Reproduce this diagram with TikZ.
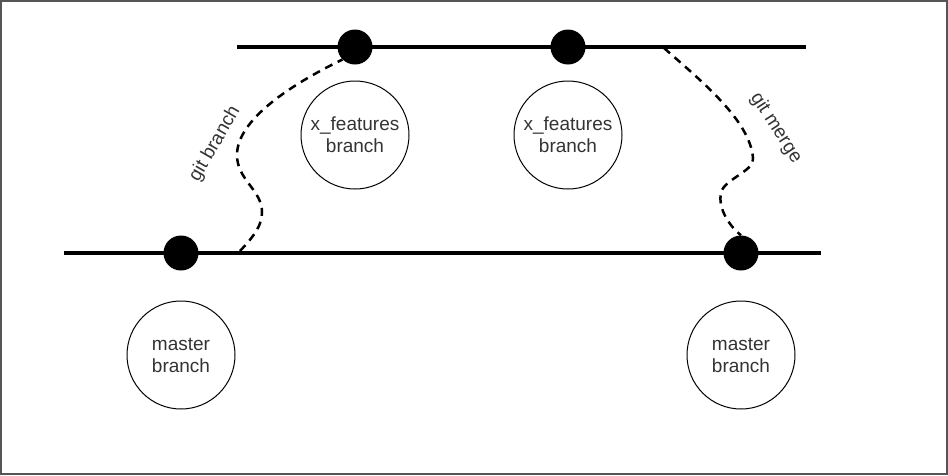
\documentclass[tikz,border=0pt]{standalone}
\usepackage{fontspec}
\setmainfont{Liberation Sans}
\usepackage{xcolor}
\definecolor{textgray}{HTML}{333333}
\definecolor{framegray}{HTML}{555555}

\begin{document}
\begin{tikzpicture}[
  x=1pt, y=-1pt,
  branchline/.style={draw=black, line width=3.2pt},
  commit/.style={circle, fill=black, inner sep=0pt, minimum size=35pt},
  tag/.style={circle, draw=black, line width=1pt, minimum size=108pt, inner sep=0pt, align=center, font=\fontsize{19}{22}\selectfont, text=textgray},
  gitop/.style={line width=2.5pt, dash pattern=on 8pt off 6pt},
  oplabel/.style={font=\fontsize{19}{22}\selectfont, text=textgray}
]
  \useasboundingbox (0,0) rectangle (948,475);
  \draw[framegray, line width=2pt] (1,1) rectangle (947,474);

  % branch lines
  \coordinate (topl) at (237,47);
  \coordinate (topr) at (806,47);
  \coordinate (botl) at (64,253);
  \coordinate (botr) at (821,253);
  \draw[branchline] (topl) -- (topr);
  \draw[branchline] (botl) -- (botr);

  % commits
  \node[commit] (xc1) at (355,47) {};
  \node[commit] (xc2) at (568,47) {};
  \node[commit] (mc1) at (181,253) {};
  \node[commit] (mc2) at (741,253) {};

  % branch names
  \node[tag] (xb1) at (355,135) {x\_features\\branch};
  \node[tag] (xb2) at (568,135) {x\_features\\branch};
  \node[tag] (mb1) at (181,355) {master\\branch};
  \node[tag] (mb2) at (741,355) {master\\branch};

  % git branch / git merge
  \coordinate (fork) at (240,251);
  \coordinate (join) at (664,48);
  \draw[gitop] (fork) .. controls (255,235) and (262,225) .. (262,212)
    .. controls (262,190) and (237,180) .. (237,155)
    .. controls (237,120) and (290,85) .. (xc1.south west);
  \draw[gitop] (join) .. controls (700,80) and (750,120) .. (753,158)
    .. controls (755,170) and (728,178) .. (722,190)
    .. controls (716,205) and (728,225) .. (mc2.north);
  \node[oplabel, rotate=60] (gb) at (215,144) {git branch};
  \node[oplabel, rotate=-57] (gm) at (776,128) {git merge};
\end{tikzpicture}
\end{document}
